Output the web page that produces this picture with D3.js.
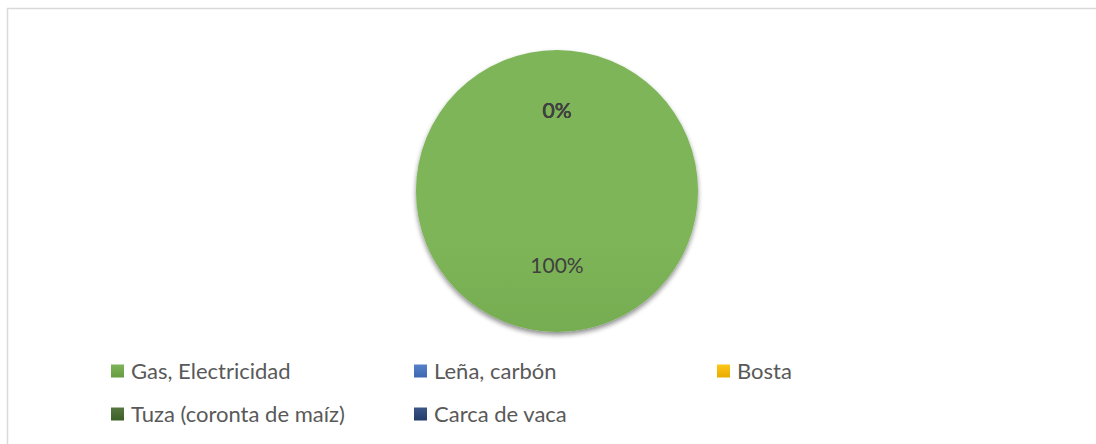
<!DOCTYPE html>
<html>
<head>
<meta charset="utf-8">
<script src="https://cdn.jsdelivr.net/npm/d3@7"></script>
<style>
  body { margin: 0; background: #fff; }
  svg { display: block; }
</style>
</head>
<body>
<div class="chart-container"></div>
<script>
// Data
const categories = ["Gas, Electricidad", "Leña, carbón", "Bosta", "Tuza (coronta de maíz)", "Carca de vaca"];
const values = [100, 0, 0, 0, 0];
const colors = ["#70ad47", "#4472c4", "#ffc000", "#43682b", "#264478"];

function draw() {
    const width = 1096;
    const height = 444;
    const cx = 557;
    const cy = 191;
    const radius = 141;

    const svg = d3.select('.chart-container').append("svg")
        .attr("width", width)
        .attr("height", height);

    // chart border
    svg.append("rect")
        .attr("x", 7.5)
        .attr("y", 8.5)
        .attr("width", width)
        .attr("height", height)
        .attr("fill", "none")
        .attr("stroke", "#d9d9d9")
        .attr("stroke-width", 1.5);

    const defs = svg.append("defs");

    // shadow under the pie
    const shadow = defs.append("filter")
        .attr("id", "shadow")
        .attr("x", "-20%").attr("y", "-20%")
        .attr("width", "140%").attr("height", "140%");
    shadow.append("feGaussianBlur").attr("in", "SourceAlpha").attr("stdDeviation", 2.5);
    shadow.append("feOffset").attr("dx", 0).attr("dy", 3).attr("result", "off");
    shadow.append("feComponentTransfer").append("feFuncA").attr("type", "linear").attr("slope", 0.45);
    const merge = shadow.append("feMerge");
    merge.append("feMergeNode");
    merge.append("feMergeNode").attr("in", "SourceGraphic");

    // gradient for each colour, lighter at top
    colors.forEach((c, i) => {
        const g = defs.append("linearGradient")
            .attr("id", "grad" + i)
            .attr("gradientUnits", "userSpaceOnUse")
            .attr("x1", 0).attr("y1", cy - radius)
            .attr("x2", 0).attr("y2", cy + radius);
        g.append("stop").attr("offset", "0%").attr("stop-color", d3.interpolateRgb(c, "#ffffff")(0.1));
        g.append("stop").attr("offset", "100%").attr("stop-color", d3.interpolateRgb(c, "#000000")(0.1));
    });

    const data = categories.map((name, i) => ({ name, value: values[i], i }));
    const total = d3.sum(values);

    const pie = d3.pie().value(d => d.value).sort(null);
    const arc = d3.arc().innerRadius(0).outerRadius(radius);
    const arcs = pie(data);

    const g = svg.append("g")
        .attr("transform", `translate(${cx},${cy})`);

    g.append("g")
        .attr("filter", "url(#shadow)")
        .selectAll("path")
        .data(arcs.filter(d => d.value > 0))
        .enter()
        .append("path")
        .attr("d", arc)
        .attr("fill", d => `url(#grad${d.data.i})`);

    // Add labels (zero slices pile up at the top)
    const labelArc = d3.arc().innerRadius(radius * 0.55).outerRadius(radius * 0.55);
    g.selectAll("text")
        .data(arcs)
        .enter()
        .append("text")
        .attr("transform", d => {
            const p = labelArc.centroid(d);
            return `translate(${p[0]},${p[1]})`;
        })
        .attr("text-anchor", "middle")
        .attr("dy", "0.2em")
        .style("font-family", "Lato, 'Open Sans', sans-serif")
        .style("font-size", "21px")
        .attr("fill", "#404040")
        .text(d => Math.round(d.value / total * 100) + "%");

    // Add Legend
    const legendX = [111, 414, 717];
    const legendY = [371, 414];
    const legend = svg.append("g").attr("id", "legend");
    data.forEach((d, i) => {
        const lx = legendX[i % 3];
        const ly = legendY[Math.floor(i / 3)];
        const lg = defs.append("linearGradient")
            .attr("id", "lg" + i)
            .attr("x1", 0).attr("y1", 0).attr("x2", 0).attr("y2", 1);
        lg.append("stop").attr("offset", "0%").attr("stop-color", d3.interpolateRgb(colors[i], "#ffffff")(0.1));
        lg.append("stop").attr("offset", "100%").attr("stop-color", d3.interpolateRgb(colors[i], "#000000")(0.1));
        legend.append("rect")
            .attr("x", lx)
            .attr("y", ly - 6.5)
            .attr("width", 13)
            .attr("height", 13)
            .attr("fill", `url(#lg${i})`);
        legend.append("text")
            .attr("x", lx + 20)
            .attr("y", ly)
            .attr("dy", "0.35em")
            .style("font-family", "Lato, 'Open Sans', sans-serif")
            .style("font-size", "22px")
            .attr("fill", "#595959")
            .text(d.name);
    });
}

draw();
</script>
</body>
</html>
